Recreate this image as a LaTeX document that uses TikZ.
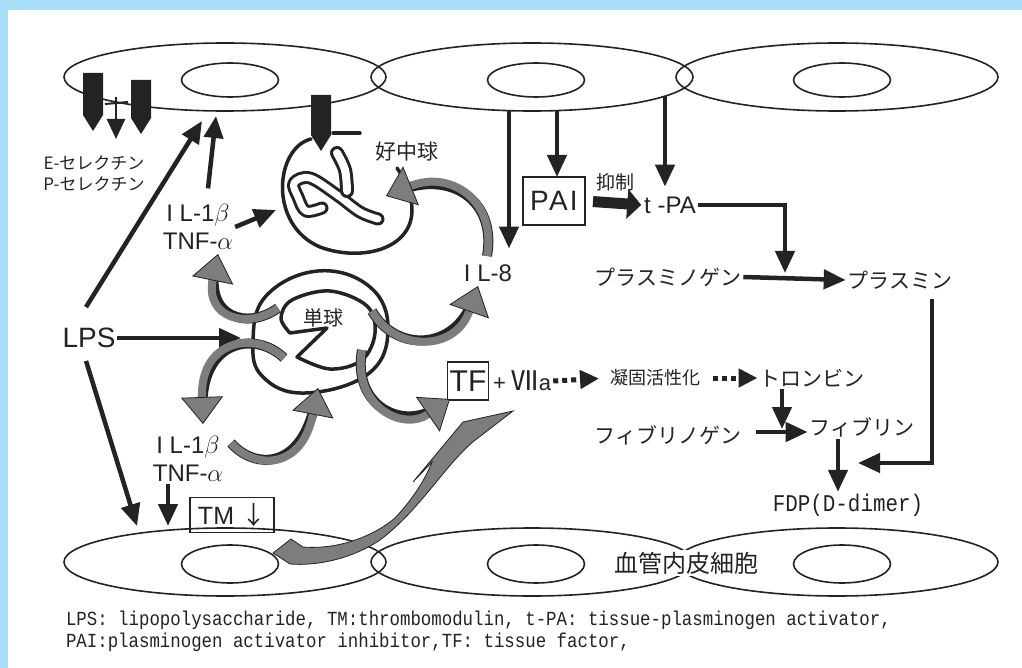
\documentclass[tikz,border=0pt]{standalone}
\usepackage{fontspec}
\setmainfont{Liberation Sans}
\newfontfamily\jp{Noto Sans CJK JP}
\newfontfamily\cond[FakeStretch=0.87]{Liberation Mono}
\usetikzlibrary{arrows.meta,shapes.geometric}

\definecolor{frameblue}{RGB}{170,222,248}
\definecolor{ink}{RGB}{35,35,35}
\definecolor{bandgray}{RGB}{125,125,125}

\begin{document}
\begin{tikzpicture}[x=1pt,y=-1pt,
    every node/.style={inner sep=2pt, outer sep=0pt, text=ink},
    cell/.style={ellipse, draw=ink, line width=1.6pt, inner sep=0pt},
    memb/.style={draw=ink, line width=3.5pt, line join=round, line cap=round},
    lobe/.style={draw=ink, line width=3pt, double=white, line cap=round, line join=round},
    arr/.style={draw=ink, line width=4.5pt, -{Triangle[length=22pt,width=19pt]}},
    fatarr/.style={draw=ink, line width=11pt, -{Triangle[length=14pt,width=29pt]}},
    dotarr/.style={draw=ink, line width=5pt, dash pattern=on 5pt off 4pt,
      -{Triangle[length=19pt,width=18pt]}},
    band/.style={draw=bandgray, line width=8pt,
      preaction={draw=ink, line width=10pt, arrows=-, shorten >=14pt},
      -{Triangle[length=27pt,width=42pt,line width=0.8pt,color=ink,fill=bandgray]}},
    boxed/.style={draw=ink, line width=1.6pt},
    en/.style={font=\fontsize{24}{28}\selectfont},
    ja/.style={font=\jp\fontsize{21}{24}\selectfont}
  ]
\fill[frameblue] (0,0) rectangle (1022,668);
\fill[white] (8,10) rectangle (1022,668);
\useasboundingbox (0,0) rectangle (1022,668);

% endothelial cells, top and bottom rows
\foreach \n/\x/\i in {1/225/230, 2/532/536, 3/837/842}{
  \node[cell, minimum width=322pt, minimum height=68pt] (te\n) at (\x,77) {};
  \node[cell, minimum width=97pt, minimum height=34pt] (ti\n) at (\i,80) {};
  \node[cell, minimum width=322pt, minimum height=68pt] (be\n) at (\x,562) {};
  \node[cell, minimum width=97pt, minimum height=38pt] (bi\n) at (\i,564) {};
}
\node[ja, font=\jp\fontsize{24}{26}\selectfont, fill=white] (vec) at (686,563) {血管内皮細胞};

% selectins
\foreach \x/\t/\b in {93/73/115, 141/80/118, 321/95/135}
  \fill[ink] (\x-10,\t) -- (\x+10,\t) -- (\x+10,\b) -- (\x,\b+16) -- (\x-10,\b) -- cycle;
\draw[ink, line width=2.5pt, -{Triangle[length=20pt,width=18pt]}] (116,97) -- (116,139);
\draw[ink, line width=2pt] (105,104) -- (128,102);
\node[font=\jp\fontsize{17}{19}\selectfont] (esel) at (94,163) {E-セレクチン};
\node[font=\jp\fontsize{17}{19}\selectfont] (psel) at (94,184) {P-セレクチン};

% neutrophil
\draw[memb] (311,139) .. controls (275,148) and (268,225) .. (320,247)
  .. controls (360,262) and (412,250) .. (412,210)
  .. controls (412,195) and (405,180) .. (397,168);
\draw[memb] (333,133) -- (360,133);
\draw[lobe, double distance=7pt] plot[smooth, tension=0.6] coordinates {(322,208) (306,211)
  (298,197) (294,183) (310,178) (337,195) (360,212) (378,219)};
\draw[lobe, double distance=8pt] plot[smooth, tension=0.6] coordinates {(337,153) (345,170) (347,191)};
\node[ja] (neut) at (407,152) {好中球};

% monocyte
\draw[memb] plot[smooth cycle, tension=0.7] coordinates {(253,342) (266,296) (318,271)
  (370,287) (388,330) (368,374) (305,393) (263,377)};
\draw[memb] (327,328) -- (297,357) -- plot[smooth, tension=0.6] coordinates {(297,357) (330,369)
  (362,360) (375,333) (367,306) (330,291) (292,300) (281,318) (290,333)} -- (327,328);
\node[ja, font=\jp\fontsize{20}{22}\selectfont] (mono) at (323,318) {単球};

% labels
\node[font=\fontsize{28}{30}\selectfont] (lps) at (89,338) {LPS};
\node[en, align=center] (cyt1) at (198,227) {I L-1$\beta$\\TNF-$\alpha$};
\node[en, align=center] (cyt2) at (188,459) {I L-1$\beta$\\TNF-$\alpha$};
\node[en] (il8) at (488,273) {I L-8};
\node[boxed, font=\addfontfeature{LetterSpace=8}\fontsize{28}{30}\selectfont, minimum width=62pt, minimum height=48pt] (pai) at (554,201) {PAI};
\node[ja, font=\jp\fontsize{19}{21}\selectfont] (inh) at (615,182) {抑制};
\node[en] (tpa) at (670,205) {t -PA};
\node[ja] (plg) at (668,277) {プラスミノゲン};
\node[ja] (pls) at (900,280) {プラスミン};
\node[boxed, font=\fontsize{30}{32}\selectfont, minimum width=41pt, minimum height=38pt, inner sep=0pt] (tf) at (468,381) {TF};
\node[anchor=west, font=\fontsize{22}{24}\selectfont] (f7) at (491,381) {+ {\jp\fontsize{27}{28}\selectfont Ⅶ}a};
\node[ja, font=\jp\fontsize{18}{20}\selectfont] (coag) at (655,378) {凝固活性化};
\node[ja] (trn) at (812,378) {トロンビン};
\node[ja] (fbg) at (668,435) {フィブリノゲン};
\node[ja] (fbn) at (862,427) {フィブリン};
\node[font=\cond\fontsize{24}{26}\selectfont] (fdp) at (848,505) {FDP(D-dimer)};
\node[boxed, font=\fontsize{25}{27}\selectfont, minimum width=84pt, minimum height=35pt] (tm) at (232,515) {TM {\jp ↓}};
\node[anchor=west, font=\cond\fontsize{20}{22}\selectfont] (fn1) at (64,620)
  {LPS: lipopolysaccharide, TM:thrombomodulin, t-PA: tissue-plasminogen activator,};
\node[anchor=west, font=\cond\fontsize{20}{22}\selectfont] (fn2) at (64,642)
  {PAI:plasminogen activator inhibitor,TF: tissue factor,};

% arrow ends
\coordinate (e1l) at (202,121);
\coordinate (e1c) at (216,116);
\coordinate (nw) at (276,210);
\coordinate (mw) at (241,338);
\coordinate (b1a) at (137,526);
\coordinate (b1b) at (168,526);
\coordinate (e2a) at (509,110);
\coordinate (e2b) at (557,110);
\coordinate (e2c) at (665,96);
\coordinate (pj) at (785,277);
\coordinate (fj) at (782,432);
\coordinate (fx) at (932,463);
\coordinate (fdpin) at (858,463);

\draw[arr] ([shift={(-3,-19)}]lps.north) -- (e1l);
\draw[arr] (lps.east) -- (mw);
\draw[arr] ([shift={(-3,11)}]lps.south) -- (b1a);
\draw[arr] ([shift={(10,-14)}]cyt1.north) -- (e1c);
\draw[arr] (cyt1.east) -- (nw);
\draw[arr] (cyt2.south -| b1b) -- (b1b);

\draw[arr, shorten >=14pt] (e2a) -- (e2a |- il8.north);
\draw[arr] (e2b) -- (e2b |- pai.north);
\draw[arr, shorten >=8pt] (e2c) -- (e2c |- tpa.north);
\draw[fatarr, shorten <=8pt, shorten >=1pt] (pai.east) -- (tpa.west);
\draw[arr, shorten >=4pt] (tpa.east) -| (pj);
\draw[arr] (plg.east) -- (pls.west);
\draw[arr, shorten <=8pt] (pls.south -| fx) -- (fx) -- (fdpin);

\draw[dotarr, shorten >=9pt] (f7.east) -- (coag.west);
\draw[dotarr, shorten <=11pt] (coag.east) -- (trn.west);
\draw[arr, shorten >=3pt] (trn.south -| fj) -- (fj);
\draw[arr, shorten <=13pt] (fbg.east |- fj) -- (fbn.west |- fj);
\draw[arr] ([xshift=-24pt]fbn.south) -- ([xshift=-24pt]fbn.south |- fdp.north);

% cytokine release
\coordinate (g1a) at (278,308); \coordinate (g1b) at (218,254);
\coordinate (g2a) at (284,358); \coordinate (g2b) at (203,424);
\coordinate (g3a) at (231,443); \coordinate (g3b) at (318,388);
\coordinate (g4a) at (372,311); \coordinate (g4b) at (478,286);
\coordinate (g5a) at (362,350); \coordinate (g5b) at (450,399);
\coordinate (g6a) at (487,256); \coordinate (g6b) at (386,196);
\draw[band] (g1a) .. controls (248,330) and (205,318) .. (g1b);
\draw[band] (g2a) .. controls (255,330) and (200,340) .. (g2b);
\draw[band] (g3a) .. controls (255,470) and (302,470) .. (g3b);
\draw[band] (g4a) .. controls (395,352) and (455,352) .. (g4b);
\draw[band] (g5a) .. controls (352,405) and (402,432) .. (g5b);
\draw[band] (g6a) .. controls (497,200) and (450,170) .. (g6b);

% tissue factor from the endothelium
\filldraw[fill=bandgray, draw=ink, line width=0.8pt]
  (273,553) -- (291,539) -- (303,547)
  .. controls (340,550) and (375,535) .. (395,518)
  .. controls (412,500) and (425,480) .. (432,462)
  -- (413,482) -- (463,422) -- (513,411) -- (474,441)
  .. controls (445,465) and (420,510) .. (380,540)
  .. controls (350,560) and (315,566) .. (290,564) -- cycle;
\end{tikzpicture}
\end{document}
